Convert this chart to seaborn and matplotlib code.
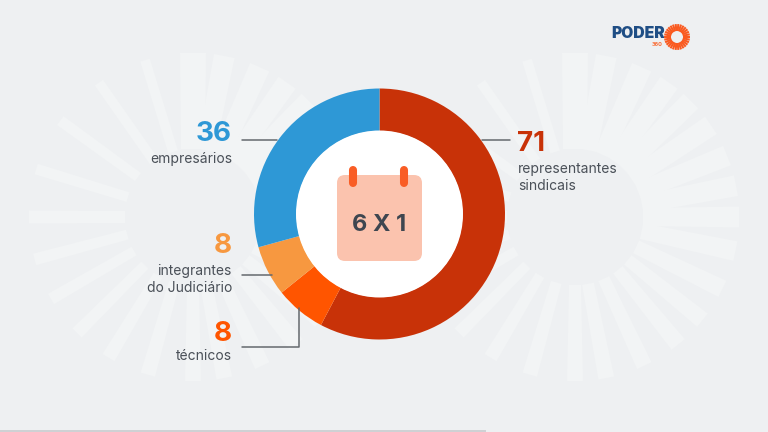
import numpy as np
import matplotlib
matplotlib.use("Agg")
import matplotlib.pyplot as plt
from matplotlib.patches import Polygon, FancyBboxPatch, Circle
import seaborn as sns

groups = ["representantes sindicais", "técnicos", "integrantes do Judiciário", "empresários"]
members = [71, 8, 8, 36]
slice_colors = ["#C83208", "#FF5500", "#F79840", "#2E98D6"]

BG = "#EEF0F2"
RAY = "#F2F4F5"
TXT = "#4A5058"
LINE = "#64696E"
H = 432

sns.set_theme(style="white", rc={"figure.facecolor": BG, "axes.facecolor": BG})
plt.rcParams["font.family"] = ["Inter", "DejaVu Sans"]

fig = plt.figure(figsize=(7.68, 4.32), dpi=100)
ax = fig.add_axes([0, 0, 1, 1])
ax.set_xlim(0, 768)
ax.set_ylim(0, H)
ax.axis("off")


def Y(py):
    return H - py


# decorative burst: angle, outer half width, inner half width
burst_rays = [(0, 10.5, 9), (11, 10.5, 9), (22, 10.5, 9), (34, 10.5, 9), (45, 10.5, 9),
              (55, 10.5, 9), (66, 10.5, 9), (79, 10.5, 9), (90, 13, 12),
              (107, 5, 5), (125, 5, 5), (144, 5.5, 5), (163, 5.5, 5), (180, 6.5, 6),
              (195, 6, 5), (210, 6, 5), (225, 6.5, 5), (239, 7, 5), (254, 7.5, 5.5),
              (270, 8, 6), (281, 8, 6), (295, 8, 6), (309, 8.5, 6), (321, 8.5, 6),
              (334, 9, 7), (348, 10, 8)]


def sunburst(cx, cy, r0, r1):
    c = np.array([cx, Y(cy)])
    for a, ow, iw in burst_rays:
        t = np.deg2rad(a)
        u = np.array([np.cos(t), np.sin(t)])
        n = np.array([-u[1], u[0]])
        pts = [c + u * r0 + n * iw, c + u * r1 + n * ow,
               c + u * r1 - n * ow, c + u * r0 - n * iw]
        ax.add_patch(Polygon(pts, closed=True, fc=RAY, ec="none", zorder=1))


sunburst(193, 217, 68, 164)
sunburst(575, 217, 68, 164)

# bottom hairline
ax.plot([0, 486], [0.6, 0.6], color="#C9CBCE", lw=1.2, zorder=2, solid_capstyle="butt")

# donut
ax.pie(members, colors=slice_colors, startangle=90, counterclock=False,
       center=(379.5, Y(214)), radius=125.5, frame=True,
       wedgeprops=dict(width=42.5, linewidth=0))
ax.set_xlim(0, 768)
ax.set_ylim(0, H)
ax.set_aspect("auto")
ax.axis("off")
ax.add_patch(Circle((379.5, Y(214)), 83.5, fc="white", ec="none", zorder=4))

# calendar icon
ax.add_patch(FancyBboxPatch((337 + 8, Y(261) + 8), 85 - 16, 86 - 16,
                            boxstyle="round,pad=8,rounding_size=8",
                            fc="#FBC3AE", ec="none", zorder=5))
for x in (353, 403.5):
    ax.plot([x, x], [Y(170), Y(183)], color="#F95D25", lw=5.8,
            solid_capstyle="round", zorder=6)
ax.text(379.5, Y(225), "6 X 1", ha="center", va="center", fontsize=17,
        fontweight="bold", color="#3E4650", zorder=7)

# leader lines
leaders = [([242, 277], [140, 140]), ([482, 510], [140, 140]),
           ([242, 272], [274.5, 274.5]), ([242, 298.5, 298.5], [347, 347, 308])]
for xs, ys in leaders:
    ax.plot(xs, [Y(v) for v in ys], color=LINE, lw=1.1, zorder=3)

# values and names
num_kw = dict(fontsize=20, fontweight="bold", va="center", zorder=5)
lab_kw = dict(fontsize=10, color=TXT, va="center", zorder=5)
ax.text(232, Y(134), str(members[3]), ha="right", color=slice_colors[3], **num_kw)
ax.text(232, Y(158.5), "empresários", ha="right", **lab_kw)
ax.text(232, Y(246), str(members[2]), ha="right", color=slice_colors[2], **num_kw)
ax.text(232, Y(270.5), "integrantes", ha="right", **lab_kw)
ax.text(232, Y(288), "do Judiciário", ha="right", **lab_kw)
ax.text(232, Y(334), str(members[1]), ha="right", color=slice_colors[1], **num_kw)
ax.text(232, Y(356.5), "técnicos", ha="right", **lab_kw)
ax.text(517.5, Y(144), str(members[0]), ha="left", color=slice_colors[0], **num_kw)
ax.text(518, Y(168.5), "representantes", ha="left", **lab_kw)
ax.text(518, Y(186), "sindicais", ha="left", **lab_kw)

# logo
ax.text(611, Y(34), "PODER", ha="left", va="center", fontsize=11.3, fontweight="black",
        color="#1F4E85", zorder=5)
ax.text(651.5, Y(44.5), "360", ha="left", va="center", fontsize=4, fontweight="bold",
        color="#F9703A", zorder=5)
for a in np.arange(0, 360, 12):
    t = np.deg2rad(a)
    ax.plot([677 + 6 * np.cos(t), 677 + 13 * np.cos(t)],
            [Y(37) + 6 * np.sin(t), Y(37) + 13 * np.sin(t)],
            color="#FA5A20", lw=1.5, zorder=5, solid_capstyle="butt")

fig.savefig("out.png", dpi=100, facecolor=BG)
